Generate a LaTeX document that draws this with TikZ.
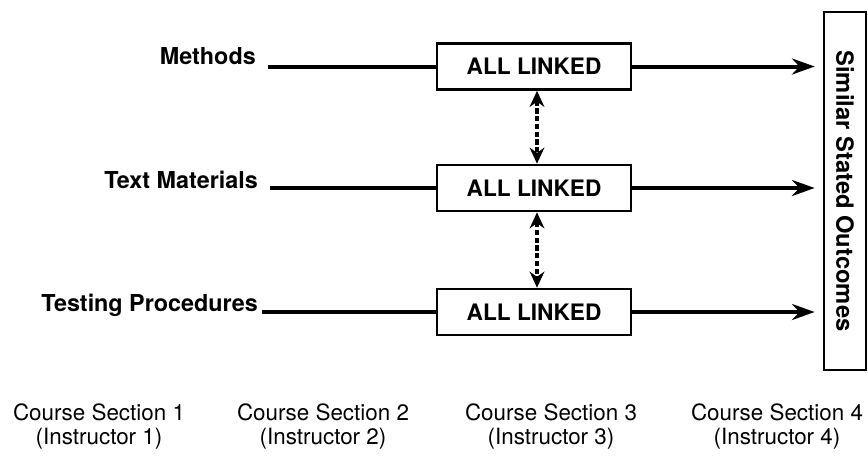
\documentclass[tikz,border=0pt]{standalone}
\usepackage{fontspec}
\setmainfont{TeX Gyre Heros}
\usetikzlibrary{arrows.meta,positioning}

\begin{document}
\begin{tikzpicture}[x=0.75pt,y=-0.75pt,
    linked/.style={draw,line width=2pt,minimum width=145.5pt,minimum height=34.5pt,inner sep=0pt,
      font=\bfseries\fontsize{17}{20}\selectfont},
    factor/.style={anchor=base east,inner sep=0pt,font=\bfseries\fontsize{17.5}{20}\selectfont},
    section/.style={align=center,inner sep=0pt,font=\fontsize{16.8}{18}\selectfont},
    feed/.style={line width=3pt,shorten <=9pt},
    toout/.style={line width=3pt,-{Stealth[length=17pt,width=12pt]},shorten >=6pt},
    tie/.style={line width=2.6pt,dash pattern=on 4pt off 1.8pt,{Stealth[length=12pt,width=11pt]}-{Stealth[length=12pt,width=11pt]}},
    ]
    \useasboundingbox (0,0) rectangle (868,455);
    % the three linked boxes
    \node[linked] (b1) at (534,66.5) {ALL LINKED};
    \node[linked] (b2) at (534,188) {ALL LINKED};
    \node[linked] (b3) at (534,312) {ALL LINKED};
    % outcome box
    \node[draw,line width=2pt,rotate=-90,minimum width=268.5pt,minimum height=31.5pt,inner sep=0pt,
      font=\bfseries\fontsize{17.8}{20}\selectfont] (out) at (845,191) {Similar Stated Outcomes};
    % factors on the left
    \node[factor] (meth) at (256,64) {Methods};
    \node[factor] (text) at (258,188) {Text Materials};
    \node[factor] (test) at (258,311) {Testing Procedures};
    \draw[feed] (meth.east |- b1.west) -- (b1.west);
    \draw[feed] (text.east |- b2.west) -- (b2.west);
    \draw[feed,shorten <=3pt] (test.east |- b3.west) -- (b3.west);
    % on to the outcomes
    \draw[toout] (b1.east) -- (b1.east -| out.south);
    \draw[toout] (b2.east) -- (b2.east -| out.south);
    \draw[toout] (b3.east) -- (b3.east -| out.south);
    % links between boxes
    \draw[tie] ([xshift=2.25pt]b1.south) -- ([xshift=2.25pt]b2.north);
    \draw[tie] ([xshift=2.25pt]b2.south) -- ([xshift=2.25pt]b3.north);
    % course sections
    \node[section] (s1) at (99,426) {Course Section 1\\(Instructor 1)};
    \node[section] (s2) at (323,426) {Course Section 2\\(Instructor 2)};
    \node[section] (s3) at (551,426) {Course Section 3\\(Instructor 3)};
    \node[section] (s4) at (777,426) {Course Section 4\\(Instructor 4)};
\end{tikzpicture}
\end{document}
